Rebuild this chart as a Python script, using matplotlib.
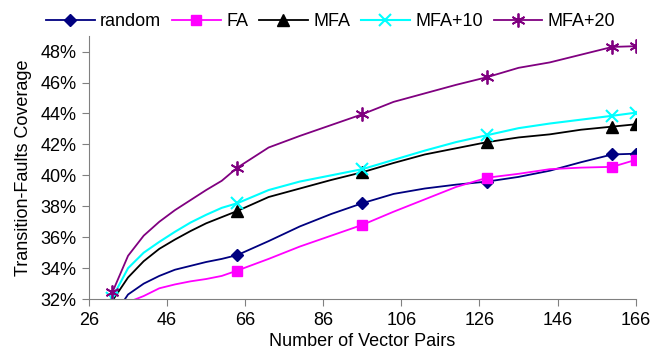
import matplotlib
matplotlib.use("Agg")
import matplotlib.pyplot as plt
from matplotlib.ticker import FuncFormatter

plt.rcParams['font.family'] = ['Liberation Sans', 'DejaVu Sans']

# x positions (number of vector pairs)
pairs = [32, 36, 40, 44, 48, 52, 56, 60, 64, 72, 80, 88, 96,
         104, 112, 120, 128, 136, 144, 152, 160, 166]
# indices that carry a marker
marked = [0, 8, 12, 16, 20, 21]

# coverage in percent
random_cov = [30.8, 32.3, 33.0, 33.5, 33.9, 34.15, 34.4, 34.6, 34.85, 35.75, 36.7, 37.5, 38.2,
              38.8, 39.15, 39.4, 39.6, 39.9, 40.3, 40.85, 41.35, 41.4]
fa_cov = [29.8, 31.8, 32.2, 32.7, 32.95, 33.15, 33.3, 33.5, 33.85, 34.6, 35.4, 36.1, 36.8,
          37.65, 38.45, 39.25, 39.85, 40.1, 40.4, 40.5, 40.55, 41.0]
mfa_cov = [31.9, 33.4, 34.45, 35.25, 35.85, 36.4, 36.9, 37.3, 37.7, 38.6, 39.15, 39.7, 40.2,
           40.8, 41.35, 41.75, 42.15, 42.45, 42.65, 42.95, 43.15, 43.3]
mfa10_cov = [32.1, 34.0, 35.0, 35.7, 36.35, 36.95, 37.45, 37.9, 38.2, 39.05, 39.6, 40.0, 40.4,
             41.0, 41.6, 42.15, 42.6, 43.05, 43.35, 43.6, 43.85, 44.05]
mfa20_cov = [32.45, 34.8, 36.1, 37.0, 37.75, 38.4, 39.05, 39.65, 40.5, 41.8, 42.55, 43.25, 43.95,
             44.75, 45.3, 45.85, 46.35, 46.95, 47.3, 47.8, 48.3, 48.35]

fig = plt.figure(figsize=(6.52, 3.54), dpi=100)
ax = fig.add_axes([0.1365, 0.155, 0.8385, 0.743])

ax.plot(pairs, random_cov, color='#000080', lw=1.3, marker='D', ms=6.5,
        markevery=marked, label='random')
ax.plot(pairs, fa_cov, color='#FF00FF', lw=1.3, marker='s', ms=7.5,
        markevery=marked, label='FA')
ax.plot(pairs, mfa_cov, color='black', lw=1.3, marker='^', ms=8,
        markevery=marked, label='MFA')
ax.plot(pairs, mfa10_cov, color='#00FFFF', lw=1.5, marker='x', ms=8, mew=1.5,
        markevery=marked, label='MFA+10')
ax.plot(pairs, mfa20_cov, color='#800080', lw=1.3, marker=(6, 2, 0), ms=10, mew=1.3,
        markevery=marked, label='MFA+20')

ax.set_xlim(26, 166)
ax.set_ylim(32, 49)
ax.set_xticks(range(26, 167, 20))
ax.set_yticks(range(32, 49, 2))
ax.yaxis.set_major_formatter(FuncFormatter(lambda v, p: f'{v:.0f}%'))

for s in ['top', 'right']:
    ax.spines[s].set_visible(False)
for s in ['left', 'bottom']:
    ax.spines[s].set_color('#808080')
ax.tick_params(direction='out', length=5, color='#808080', labelsize=13, pad=4)

ax.set_xlabel('Number of Vector Pairs', fontsize=13, labelpad=3)
ax.set_ylabel('Transition-Faults Coverage', fontsize=13, labelpad=6)

fig.legend(loc='center', bbox_to_anchor=(0.507, 0.938), ncol=5, frameon=False,
           fontsize=13, handlelength=2.7, handletextpad=0.3, columnspacing=0.6,
           borderaxespad=0)

fig.savefig('out.png', dpi=100)
